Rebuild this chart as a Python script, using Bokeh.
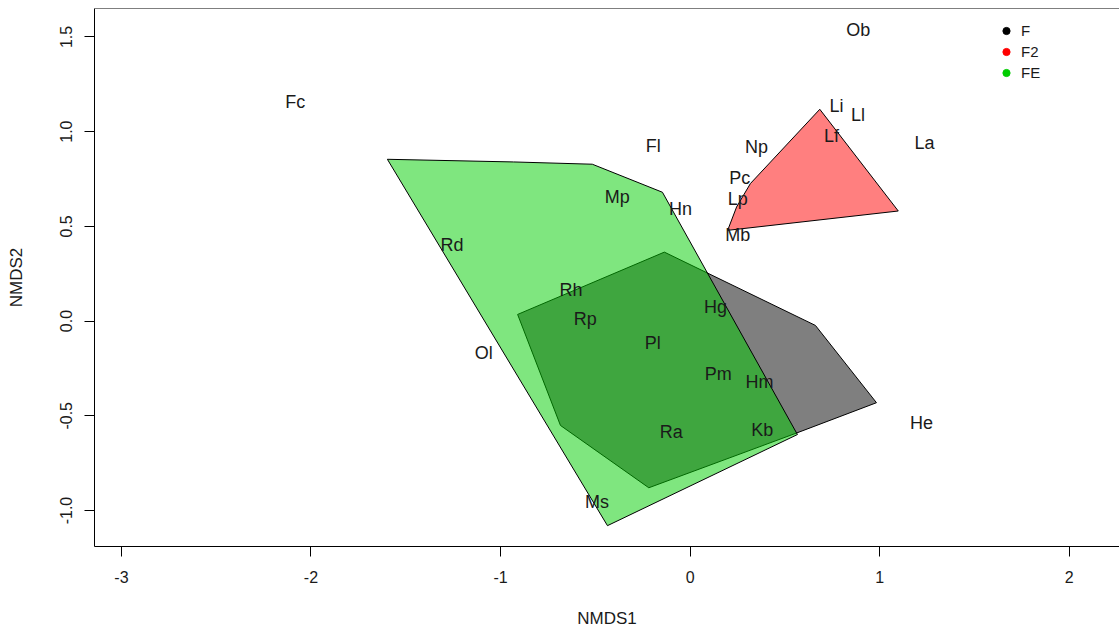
from bokeh.plotting import figure
from bokeh.models import Range1d, Span, Legend, LegendItem, ColumnDataSource, FixedTicker
from bokeh.core.properties import value
from bokeh.embed import file_html
from bokeh.resources import INLINE

# ---- data ----
species = ["Fc", "Ob", "Li", "Ll", "Lf", "La", "Np", "Pc", "Lp", "Mb", "Hn", "Fl", "Mp",
           "Rd", "Rh", "Rp", "Hg", "Pl", "Ol", "Pm", "Hm", "Ra", "Kb", "Ms", "He"]
nmds1 = [-2.083, 0.887, 0.772, 0.885, 0.746, 1.236, 0.350, 0.262, 0.251, 0.251, -0.051, -0.195, -0.385,
         -1.256, -0.628, -0.553, 0.134, -0.197, -1.089, 0.148, 0.366, -0.099, 0.380, -0.491, 1.221]
nmds2 = [1.157, 1.536, 1.136, 1.087, 0.976, 0.940, 0.919, 0.755, 0.647, 0.456, 0.594, 0.925, 0.655,
         0.400, 0.166, 0.013, 0.074, -0.114, -0.167, -0.282, -0.322, -0.583, -0.577, -0.956, -0.537]

hull_F_x = [-0.910, -0.136, 0.661, 0.983, 0.559, -0.218, -0.684]
hull_F_y = [0.035, 0.364, -0.023, -0.431, -0.592, -0.880, -0.551]
hull_F2_x = [0.684, 1.098, 0.198, 0.245, 0.318]
hull_F2_y = [1.118, 0.581, 0.479, 0.602, 0.726]
hull_FE_x = [-1.597, -0.932, -0.516, -0.146, 0.566, -0.436]
hull_FE_y = [0.854, 0.840, 0.828, 0.680, -0.599, -1.080]

groups = ["F", "F2", "FE"]
group_colors = ["#000000", "#FF0000", "#00CD00"]

x_ticks = [-3, -2, -1, 0, 1, 2]
x_tick_labels = ["-3", "-2", "-1", "0", "1", "2"]
y_ticks = [-1.0, -0.5, 0.0, 0.5, 1.0, 1.5]
y_tick_labels = ["-1.0", "-0.5", "0.0", "0.5", "1.0", "1.5"]

FONT = "Liberation Sans"
Y_TOP = 1.650

p = figure(width=1119, height=632, output_backend="svg", toolbar_location=None,
           x_range=Range1d(-3.142, 2.265), y_range=Range1d(-1.190, Y_TOP),
           min_border_left=94, min_border_right=0, min_border_top=8, min_border_bottom=86)
p.outline_line_color = None
p.xgrid.visible = False
p.ygrid.visible = False
p.background_fill_color = "white"

# hulls (site groups)
hulls = [(hull_F_x, hull_F_y), (hull_F2_x, hull_F2_y), (hull_FE_x, hull_FE_y)]
legend_items = []
for g, (hx, hy), col in zip(groups, hulls, group_colors):
    p.patch(hx, hy, fill_color=col, fill_alpha=0.5, line_color="black", line_width=1)
    # zero-size markers at hull vertices, used for the legend dots
    r = p.scatter(x=hx, y=hy, size=0, fill_color=col, line_color=col, marker="circle")
    legend_items.append(LegendItem(label=g, renderers=[r]))

# species labels on top
src = ColumnDataSource(dict(x=nmds1, y=nmds2, t=species))
p.text(x="x", y="y", text="t", source=src, text_align="center", text_baseline="middle",
       text_font=value(FONT), text_font_size=value("18px"), text_color="#1a1a1a")

# top border line of the plot box
p.add_layout(Span(location=Y_TOP, dimension="width", line_color="black", line_width=1))

leg = Legend(items=legend_items, location=(903, 463), border_line_color=None, background_fill_alpha=0,
             glyph_width=18, glyph_height=21, label_height=21, spacing=0, padding=0, margin=0,
             label_standoff=6, label_text_font=FONT, label_text_font_size="15px",
             label_text_color="#1a1a1a", label_text_baseline="middle")
p.add_layout(leg)

for ax in (p.xaxis[0], p.yaxis[0]):
    ax.major_tick_out = 10
    ax.major_tick_in = 0
    ax.minor_tick_line_color = None
    ax.axis_line_color = "black"
    ax.major_tick_line_color = "black"
    ax.major_label_text_font = FONT
    ax.major_label_text_font_size = "16px"
    ax.major_label_text_color = "#1a1a1a"
    ax.axis_label_text_font = FONT
    ax.axis_label_text_font_size = "17px"
    ax.axis_label_text_font_style = "normal"
    ax.axis_label_text_color = "#1a1a1a"

p.xaxis.ticker = FixedTicker(ticks=x_ticks)
p.xaxis.major_label_overrides = dict(zip(x_ticks, x_tick_labels))
p.yaxis.ticker = FixedTicker(ticks=y_ticks)
p.yaxis.major_label_overrides = dict(zip(y_ticks, y_tick_labels))
p.xaxis.axis_label = "NMDS1"
p.yaxis.axis_label = "NMDS2"
p.xaxis.major_label_standoff = 14
p.xaxis.axis_label_standoff = 23
p.yaxis.major_label_orientation = "vertical"
p.yaxis.major_label_standoff = 12
p.yaxis.axis_label_standoff = 32

open("out.html", "w").write(file_html(p, INLINE))
